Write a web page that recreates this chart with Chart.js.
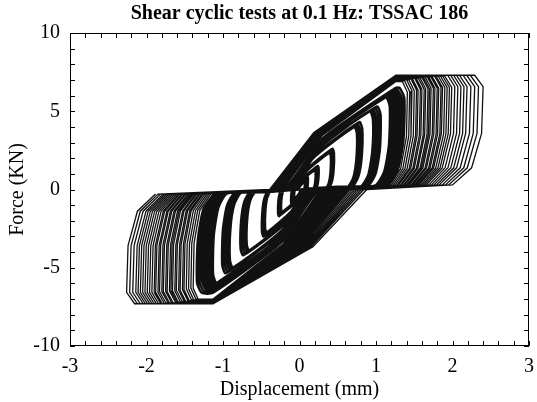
<!DOCTYPE html>
<html>
<head>
<meta charset="utf-8">
<script src="https://cdn.jsdelivr.net/npm/chart.js@4.4.1/dist/chart.umd.min.js"></script>
<style>html,body{margin:0;padding:0;background:#fff}</style>
</head>
<body>
<canvas id="c" width="537" height="402"></canvas>
<script>
// one entry per load cycle, smallest first (mm / kN)
const ampPos=[0.07,0.09,0.11, 0.21,0.23,0.25, 0.41,0.43,0.45, 0.75,0.77,0.79,0.82, 0.96,0.98,1.00,1.03,1.06,
  1.18,1.20,1.22,1.24,1.26,1.28,1.30,1.32,1.34,1.37,
  1.41,1.44,1.47,1.50,1.53,1.55,1.58,1.60,1.63,1.65,1.68,1.70,1.72,1.75,1.77,1.80,1.82,1.85,1.87,1.90,
  1.93,1.96,1.99,2.03,2.07,2.11,2.15,2.19,2.24,2.29,2.34,2.40];
const ampNeg=[-0.07,-0.09,-0.11, -0.24,-0.26,-0.28, -0.45,-0.47,-0.49, -0.69,-0.71,-0.74,-0.77, -0.91,-0.93,-0.95,-0.98,-1.01,
  -1.13,-1.15,-1.17,-1.19,-1.21,-1.23,-1.26,-1.28,-1.31,-1.34,
  -1.39,-1.42,-1.45,-1.48,-1.51,-1.53,-1.56,-1.58,-1.61,-1.63,-1.66,-1.68,-1.70,-1.73,-1.75,-1.78,-1.80,-1.83,-1.85,-1.88,
  -1.90,-1.93,-1.96,-1.99,-2.02,-2.05,-2.08,-2.11,-2.14,-2.18,-2.22,-2.26];
const forcePos=[0.5,0.65,0.8, 1.25,1.4,1.5, 2.35,2.5,2.6, 4.0,4.1,4.2,4.3, 5.0,5.05,5.1,5.2,5.3,
  5.9,5.95,6.0,6.05,6.1,6.2,6.25,6.3,6.4,6.5,
  6.9,6.95,7.0,7.0,7.05,7.05,7.1,7.1,7.1,7.15,7.15,7.15,7.2,7.2,7.2,7.2,7.2,7.25,7.25,7.25,
  7.25,7.25,7.25,7.3,7.3,7.3,7.3,7.3,7.3,7.3,7.3,7.3];
const forceNeg=[-0.6,-0.75,-0.9, -1.45,-1.6,-1.7, -2.75,-2.9,-3.0, -3.9,-4.0,-4.1,-4.2, -5.0,-5.05,-5.15,-5.25,-5.35,
  -6.0,-6.05,-6.1,-6.15,-6.2,-6.3,-6.35,-6.4,-6.5,-6.6,
  -7.0,-7.0,-7.05,-7.05,-7.1,-7.1,-7.15,-7.15,-7.15,-7.2,-7.2,-7.2,-7.2,-7.25,-7.25,-7.25,-7.25,-7.25,
  -7.3,-7.3,-7.3,-7.3,-7.3,-7.3,-7.3,-7.3,-7.3,-7.3,-7.3,-7.3,-7.3,-7.3];
// displacement where force changes sign at the start of each loading branch
const zeroPos=[-0.02,-0.02,-0.03, -0.04,-0.05,-0.05, -0.07,-0.08,-0.08, -0.11,-0.12,-0.12,-0.13, -0.14,-0.15,-0.16,-0.16,-0.17,
  -0.18,-0.18,-0.19,-0.19,-0.20,-0.20,-0.21,-0.21,-0.22,-0.22,
  -0.22,-0.22,-0.23,-0.23,-0.24,-0.24,-0.25,-0.25,-0.25,-0.26,-0.26,-0.27,-0.27,-0.27,-0.28,-0.28,-0.29,-0.29,-0.30,-0.30,
  -0.31,-0.31,-0.32,-0.33,-0.33,-0.34,-0.35,-0.36,-0.36,-0.37,-0.38,-0.39];
const zeroNeg=[0.02,0.02,0.03, 0.04,0.05,0.05, 0.07,0.08,0.09, 0.11,0.12,0.13,0.14, 0.15,0.16,0.17,0.18,0.19,
  0.20,0.21,0.21,0.22,0.23,0.24,0.24,0.25,0.26,0.27,
  0.27,0.28,0.30,0.31,0.33,0.34,0.36,0.37,0.39,0.40,0.42,0.43,0.45,0.46,0.48,0.49,0.51,0.52,0.54,0.56,
  0.58,0.60,0.62,0.64,0.66,0.69,0.72,0.75,0.78,0.81,0.84,0.88];
// unloading edge of the outermost loop: [mm back from peak, fraction of peak force]
const tipShape=[[0.11,1],[0,0.9],[0.02,0.49],[0.15,0.19],[0.40,0.04]];
const plateauPos=1.26, plateauNeg=-1.13, outerAmp=2.4;
const xTicks=[-3,-2,-1,0,1,2,3];
const yTicks=[-10,-5,0,5,10];

function halfCycle(z,A,F,plateau){
  const sg=Math.sign(A), s=Math.abs(A)/outerAmp;
  const top=A-sg*tipShape[0][0]*s;
  const corner=sg>0?Math.min(top,plateau):Math.max(top,plateau);
  const pts=[{x:z,y:0},{x:z+0.35*(corner-z),y:0.5*F}];
  if(corner!==top) pts.push({x:corner,y:F});
  tipShape.forEach(([d,f])=>pts.push({x:A-sg*d*s,y:f*F}));
  return pts;
}
const inner=[], outer=[];
ampPos.forEach((a,i)=>{
  const dst=a<1.4?inner:outer;
  dst.push(...halfCycle(zeroPos[i],a,forcePos[i],plateauPos));
  dst.push(...halfCycle(zeroNeg[i],ampNeg[i],forceNeg[i],plateauNeg));
});
outer.unshift(inner[inner.length-1]);

const serif='"Liberation Serif", "Times New Roman", serif';
const frameTicks={id:'frameTicks',afterDraw(chart){
  const {ctx,chartArea:a,scales:{x,y}}=chart;
  ctx.save(); ctx.strokeStyle='#000'; ctx.lineWidth=1;
  ctx.strokeRect(a.left+0.5,a.top+0.5,a.right-a.left-1,a.bottom-a.top-1);
  ctx.beginPath();
  for(let v=-30;v<=30;v+=2){ const p=Math.round(x.getPixelForValue(v/10))+0.5;
    ctx.moveTo(p,a.bottom); ctx.lineTo(p,a.bottom-5); ctx.moveTo(p,a.top); ctx.lineTo(p,a.top+5); }
  for(let v=-10;v<=10;v++){ const p=Math.round(y.getPixelForValue(v))+0.5;
    ctx.moveTo(a.left,p); ctx.lineTo(a.left+5,p); ctx.moveTo(a.right,p); ctx.lineTo(a.right-5,p); }
  ctx.stroke(); ctx.restore();
}};

new Chart(document.getElementById('c'),{
  type:'scatter',
  data:{datasets:[
    {label:'cycles',data:inner,showLine:true,borderColor:'#111',borderWidth:2.5,pointRadius:0,tension:0.2},
    {label:'cycles large',data:outer,showLine:true,borderColor:'#111',borderWidth:1.3,pointRadius:0,tension:0}
  ]},
  options:{
    responsive:false,animation:false,
    layout:{padding:{right:8}},
    plugins:{legend:{display:false},tooltip:{enabled:false},
      title:{display:true,fullSize:false,text:'Shear cyclic tests at 0.1 Hz: TSSAC 186',color:'#000',
        font:{family:serif,size:20,weight:'bold'},padding:{top:2,bottom:7}}},
    scales:{
      x:{type:'linear',min:-3,max:3,
        afterBuildTicks:s=>{s.ticks=xTicks.map(v=>({value:v}));},
        afterFit:s=>{s.height=56;},
        grid:{display:false},border:{display:false},
        ticks:{color:'#000',padding:1,font:{family:serif,size:20}},
        title:{display:true,text:'Displacement (mm)',color:'#000',font:{family:serif,size:20},padding:{top:0,bottom:0}}},
      y:{type:'linear',min:-10,max:10,
        afterBuildTicks:s=>{s.ticks=yTicks.map(v=>({value:v}));},
        afterFit:s=>{s.width=70;},
        grid:{display:false},border:{display:false},
        ticks:{color:'#000',padding:2,font:{family:serif,size:20}},
        title:{display:true,text:'Force (KN)',color:'#000',font:{family:serif,size:20},padding:{top:6,bottom:0}}}
    }
  },
  plugins:[frameTicks]
});
</script>
</body>
</html>
